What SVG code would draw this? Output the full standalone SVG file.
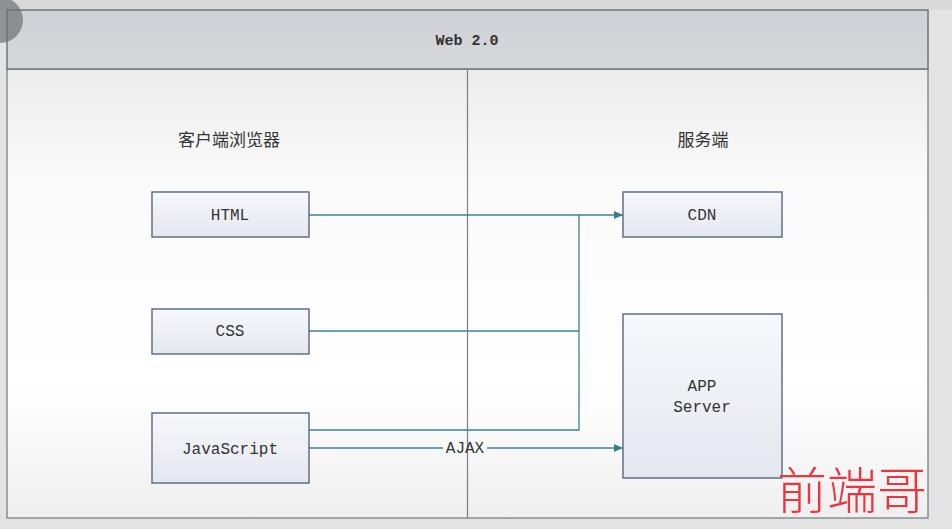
<svg xmlns="http://www.w3.org/2000/svg" width="952" height="529" viewBox="0 0 952 529">
<defs>
<linearGradient id="hdr" x1="0" y1="0" x2="0" y2="1">
<stop offset="0" stop-color="#cfd1d7"/>
<stop offset="1" stop-color="#d5d7da"/>
</linearGradient>
<linearGradient id="body" x1="0" y1="0" x2="0" y2="1">
<stop offset="0" stop-color="#ececec"/>
<stop offset="0.25" stop-color="#fafafa"/>
<stop offset="0.7" stop-color="#ffffff"/>
<stop offset="1" stop-color="#efefef"/>
</linearGradient>
<linearGradient id="box" x1="0" y1="0" x2="0" y2="1">
<stop offset="0" stop-color="#f7f8fc"/>
<stop offset="1" stop-color="#e4e7ee"/>
</linearGradient>
<marker id="arr" markerWidth="10" markerHeight="10" refX="9" refY="5" orient="auto" markerUnits="userSpaceOnUse">
<path d="M0,1 L9,5 L0,9 Z" fill="#3a7d8c"/>
</marker>
<style>
.box{fill:url(#box);stroke:#5d7186;stroke-width:1.5}
.lbl{font-family:"Liberation Mono","DejaVu Sans Mono",monospace;font-size:16px;fill:#333;text-anchor:middle}
.cn{font-family:"Noto Sans CJK SC",sans-serif;font-size:17px;fill:#333;text-anchor:middle}
.conn{stroke:#3f8391;stroke-width:1.3;fill:none}
</style>
</defs>
<rect x="0" y="0" width="952" height="529" fill="#e3e3e3"/>
<rect x="0" y="0" width="952" height="10" fill="#d9d9d9"/>
<g id="frame">
<rect x="7" y="69" width="921" height="449" fill="url(#body)" stroke="#8a8e93" stroke-width="1.5"/>
<rect x="7" y="10" width="921" height="59" fill="url(#hdr)" stroke="#6e757d" stroke-width="1.5"/>
<text x="467" y="45" class="lbl" style="font-weight:bold;font-size:15px">Web 2.0</text>
<line x1="467.5" y1="69" x2="467.5" y2="518" stroke="#7b7f84" stroke-width="1.2"/>
</g>
<g id="titles">
<text x="229" y="146" class="cn">客户端浏览器</text>
<text x="703" y="146" class="cn">服务端</text>
</g>
<g id="connectors">
<path class="conn" d="M309,215 L623,215" marker-end="url(#arr)"/>
<path class="conn" d="M309,331 L579,331"/>
<path class="conn" d="M309,430 L579,430 L579,215"/>
<path class="conn" d="M309,448 L443,448"/>
<path class="conn" d="M487,448 L623,448" marker-end="url(#arr)"/>
<text x="465" y="453" class="lbl">AJAX</text>
</g>
<g id="html"><rect class="box" x="152" y="192" width="157" height="45"/><text x="230" y="220" class="lbl">HTML</text></g>
<g id="css"><rect class="box" x="152" y="309" width="157" height="45"/><text x="230" y="336" class="lbl">CSS</text></g>
<g id="js"><rect class="box" x="152" y="413" width="157" height="70"/><text x="230" y="454" class="lbl">JavaScript</text></g>
<g id="cdn"><rect class="box" x="623" y="192" width="159" height="45"/><text x="702" y="220" class="lbl">CDN</text></g>
<g id="app"><rect class="box" x="623" y="314" width="159" height="164"/><text x="702" y="391" class="lbl">APP</text><text x="702" y="412" class="lbl">Server</text></g>
<circle cx="0" cy="20" r="23" fill="#6f7172" fill-opacity="0.7"/>
<text x="852" y="509" style="font-family:'Noto Sans CJK SC',serif;font-weight:300;font-size:50px;fill:#e8353f;text-anchor:middle">前端哥</text>
</svg>
